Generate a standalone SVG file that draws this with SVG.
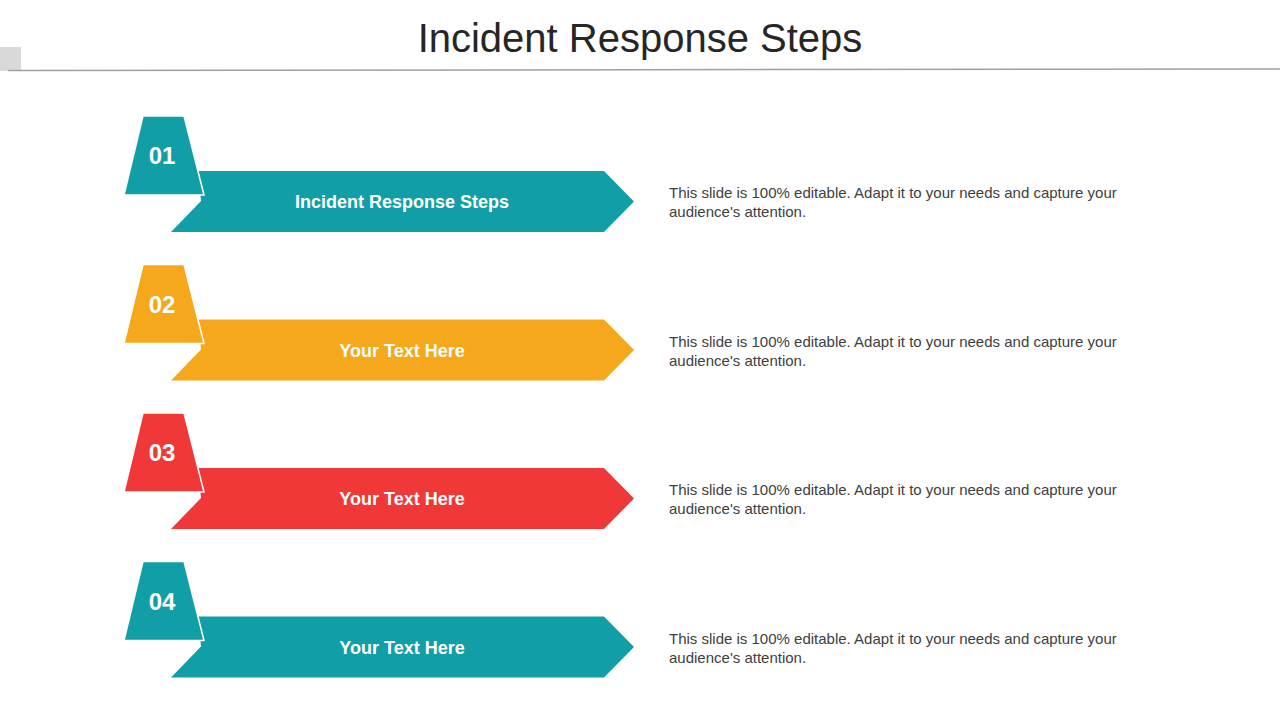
<svg xmlns="http://www.w3.org/2000/svg" width="1280" height="720" viewBox="0 0 1280 720">
<style>
.num{font-family:"Liberation Sans",Arial,sans-serif;font-weight:bold;font-size:24px;fill:#fff;text-anchor:middle}
.lbl{font-family:"Liberation Sans",Arial,sans-serif;font-weight:bold;font-size:18px;fill:#fff;text-anchor:middle}
.desc{font-family:"Liberation Sans",Arial,sans-serif;font-size:15px;fill:#404040}
.trap{stroke:#fff;stroke-width:1.5}
</style>
<defs>
<g id="row">
<path d="M198,0 L604,0 L634,30.5 L604,61 L171,61 L201,30 Z"/>
<path class="trap" d="M143,-55 L184,-55 L204,24 L124,24 Z"/>
</g>
</defs>
<rect width="1280" height="720" fill="#fff"/>
<rect x="0" y="47" width="21" height="24" fill="#d9d9d9"/>
<line x1="8" y1="70.5" x2="1280" y2="69" stroke="#a0a0a0" stroke-width="1.5"/>
<text x="640" y="52" font-family="'Liberation Sans',Arial,sans-serif" font-size="40" fill="#262626" text-anchor="middle">Incident Response Steps</text>
<g id="step1" fill="#129ea6"><use href="#row" y="171"/><text class="num" x="162" y="164">01</text><text class="lbl" x="402" y="208">Incident Response Steps</text>
<text class="desc" x="669" y="198">This slide is 100% editable. Adapt it to your needs and capture your</text><text class="desc" x="669" y="217">audience's attention.</text></g>
<g id="step2" fill="#f5a81c"><use href="#row" y="319.5"/><text class="num" x="162" y="312.5">02</text><text class="lbl" x="402" y="356.5">Your Text Here</text>
<text class="desc" x="669" y="346.5">This slide is 100% editable. Adapt it to your needs and capture your</text><text class="desc" x="669" y="365.5">audience's attention.</text></g>
<g id="step3" fill="#ef3837"><use href="#row" y="468"/><text class="num" x="162" y="461">03</text><text class="lbl" x="402" y="505">Your Text Here</text>
<text class="desc" x="669" y="495">This slide is 100% editable. Adapt it to your needs and capture your</text><text class="desc" x="669" y="514">audience's attention.</text></g>
<g id="step4" fill="#129ea6"><use href="#row" y="616.5"/><text class="num" x="162" y="609.5">04</text><text class="lbl" x="402" y="653.5">Your Text Here</text>
<text class="desc" x="669" y="643.5">This slide is 100% editable. Adapt it to your needs and capture your</text><text class="desc" x="669" y="662.5">audience's attention.</text></g>
<g id="connectors"/>
</svg>
